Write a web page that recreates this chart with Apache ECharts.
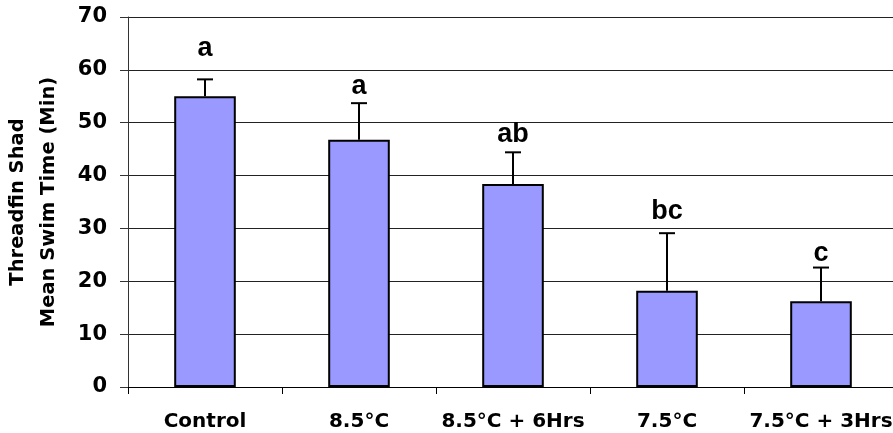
<!DOCTYPE html>
<html>
<head>
<meta charset="utf-8">
<script src="https://cdn.jsdelivr.net/npm/echarts@6/dist/echarts.min.js"></script>
<style>
html,body{margin:0;padding:0;background:#fff;}
#chart{width:893px;height:433px;}
</style>
</head>
<body>
<div id="chart"></div>
<script>
var categories = ['Control', '8.5°C', '8.5°C + 6Hrs', '7.5°C', '7.5°C + 3Hrs'];
var means = [55, 46.8, 38.4, 18.2, 16.2];
var upperErrors = [58.2, 53.7, 44.4, 29.1, 22.6];
var letters = ['a', 'a', 'ab', 'bc', 'c'];
var letterPositions = [64.1, 56.8, 47.7, 33.1, 25.3];
var yTicks = [0, 10, 20, 30, 40, 50, 60, 70];

var chart = echarts.init(document.getElementById('chart'), null, {renderer: 'canvas'});

var errData = upperErrors.map(function (u, i) { return [i, means[i], u]; });
var letterData = letters.map(function (l, i) { return [i, letterPositions[i]]; });

var option = {
  animation: false,
  backgroundColor: '#ffffff',
  grid: {left: 128, top: 17, width: 770, bottom: 46, containLabel: false, outerBoundsMode: 'none'},
  xAxis: {
    type: 'category',
    data: categories,
    axisLine: {show: true, lineStyle: {color: '#000', width: 1}},
    axisTick: {show: true, alignWithLabel: false, length: 7, lineStyle: {color: '#000'}},
    axisLabel: {
      color: '#000', fontFamily: 'DejaVu Sans', fontWeight: 'bold', fontSize: 20,
      margin: 25, interval: 0
    },
    splitLine: {show: false}
  },
  yAxis: {
    type: 'value',
    min: yTicks[0], max: yTicks[yTicks.length - 1], interval: 10,
    name: 'Threadfin Shad\nMean Swim Time (Min)',
    nameLocation: 'middle',
    nameGap: 64,
    nameRotate: 90,
    nameTextStyle: {color: '#000', fontFamily: 'DejaVu Sans', fontWeight: 'bold', fontSize: 19.5, lineHeight: 31},
    axisLine: {show: true, lineStyle: {color: '#333', width: 1}},
    axisTick: {show: true, length: 8, lineStyle: {color: '#333'}},
    axisLabel: {color: '#000', fontFamily: 'DejaVu Sans', fontWeight: 'bold', fontSize: 21, margin: 21},
    splitLine: {show: true, lineStyle: {color: '#222', width: 1}}
  },
  series: [
    {
      type: 'bar',
      data: means,
      barWidth: '40%',
      itemStyle: {color: '#9999ff', borderColor: '#000', borderWidth: 2},
      z: 2
    },
    {
      type: 'custom',
      data: errData,
      encode: {x: 0, y: [1, 2]},
      z: 3,
      renderItem: function (params, api) {
        var i = api.value(0);
        var p0 = api.coord([i, api.value(1)]);
        var p1 = api.coord([i, api.value(2)]);
        var hw = 8;
        return {
          type: 'group',
          children: [
            {type: 'line', shape: {x1: p0[0], y1: p0[1], x2: p1[0], y2: p1[1]}, style: {stroke: '#000', lineWidth: 2}},
            {type: 'line', shape: {x1: p1[0] - hw, y1: p1[1], x2: p1[0] + hw, y2: p1[1]}, style: {stroke: '#000', lineWidth: 2}}
          ]
        };
      }
    },
    {
      type: 'custom',
      data: letterData,
      encode: {x: 0, y: 1},
      z: 4,
      renderItem: function (params, api) {
        var p = api.coord([api.value(0), api.value(1)]);
        return {
          type: 'text',
          x: p[0], y: p[1],
          style: {
            text: letters[params.dataIndex],
            fill: '#000',
            font: 'bold 27px "Liberation Sans", Arial, sans-serif',
            textAlign: 'center',
            textVerticalAlign: 'middle'
          }
        };
      }
    }
  ]
};
chart.setOption(option);
</script>
</body>
</html>
